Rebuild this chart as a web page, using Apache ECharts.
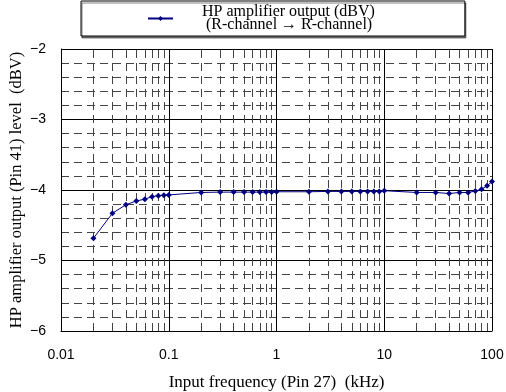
<!DOCTYPE html>
<html>
<head>
<meta charset="utf-8">
<script src="https://cdn.jsdelivr.net/npm/echarts@6/dist/echarts.min.js"></script>
<style>
  html, body { margin: 0; padding: 0; background: #fff; }
  #chart { width: 506px; height: 392px; }
</style>
</head>
<body>
<div id="chart"></div>
<script>
// input frequency (kHz)
const freq = [
  0.02, 0.03, 0.04, 0.05, 0.06, 0.07, 0.08, 0.09, 0.1,
  0.2, 0.3, 0.4, 0.5, 0.6, 0.7, 0.8, 0.9, 1,
  2, 3, 4, 5, 6, 7, 8, 9, 10,
  20, 30, 40, 50, 60, 70, 80, 90, 100
]
// HP amplifier output (dBV)
const level = [
  -4.685, -4.33, -4.21, -4.155, -4.13, -4.095, -4.08, -4.075, -4.07,
  -4.035, -4.03, -4.03, -4.03, -4.03, -4.03, -4.03, -4.03, -4.025,
  -4.025, -4.02, -4.02, -4.02, -4.02, -4.02, -4.02, -4.02, -4.01,
  -4.035, -4.035, -4.05, -4.035, -4.035, -4.015, -3.99, -3.94, -3.88
]
// minor grid lines on the log axis
const minorX = [
  0.02, 0.03, 0.04, 0.05, 0.06, 0.07, 0.08, 0.09,
  0.2, 0.3, 0.4, 0.5, 0.6, 0.7, 0.8, 0.9,
  2, 3, 4, 5, 6, 7, 8, 9,
  20, 30, 40, 50, 60, 70, 80, 90
]
const xTickLabels = { 0.01: '0.01', 0.1: '0.1', 1: '1', 10: '10', 100: '100' }

const seriesName = 'HP amplifier output (dBV)\n (R-channel \u2192 R-channel)'
const serif = '"Liberation Serif", "DejaVu Serif", serif'
const sans = '"Liberation Sans", Arial, sans-serif'
const dashed = { color: '#444', width: 1, type: [8, 5] }

const chart = echarts.init(document.getElementById('chart'))
chart.setOption({
  animation: false,
  backgroundColor: '#fff',
  grid: { left: 61, right: 14, top: 49, bottom: 61, outerBoundsMode: 'none', containLabel: false },
  legend: {
    left: 81,
    top: 1,
    padding: [3, 90, 3, 66],
    borderColor: '#000',
    borderWidth: 1,
    backgroundColor: '#fff',
    shadowColor: 'rgba(0,0,0,0.5)',
    shadowOffsetX: 1,
    shadowOffsetY: 2,
    itemWidth: 25,
    itemHeight: 6,
    textStyle: {
      fontFamily: serif,
      fontSize: 16,
      lineHeight: 13,
      color: '#000',
      padding: [0, 0, 0, 24]
    },
    data: [seriesName]
  },
  xAxis: {
    type: 'log',
    logBase: 10,
    min: 0.01,
    max: 100,
    name: 'Input frequency (Pin 27)  (kHz)',
    nameLocation: 'middle',
    nameGap: 43,
    nameMoveOverlap: false,
    nameTextStyle: { fontFamily: serif, fontSize: 17, color: '#000' },
    axisLine: { lineStyle: { color: '#000', width: 1 } },
    axisTick: { show: false },
    axisLabel: {
      margin: 17,
      fontFamily: sans,
      fontSize: 14,
      color: '#000',
      formatter: v => xTickLabels[v] || String(+v.toPrecision(3))
    },
    splitLine: { show: true, lineStyle: { color: '#000', width: 1 } }
  },
  yAxis: {
    type: 'value',
    min: -6,
    max: -2,
    interval: 1,
    name: 'HP amplifier output (Pin 41) level  (dBV)',
    nameLocation: 'middle',
    nameGap: 36,
    nameMoveOverlap: false,
    nameTextStyle: { fontFamily: serif, fontSize: 16.5, color: '#000' },
    axisLine: { show: true, lineStyle: { color: '#000', width: 1 } },
    axisTick: { show: false },
    axisLabel: {
      margin: 15,
      fontFamily: sans,
      fontSize: 14,
      color: '#000',
      formatter: v => (v < 0 ? '\u2212' + Math.abs(v) : String(v))
    },
    splitLine: { show: true, lineStyle: { color: '#000', width: 1 } },
    minorTick: { show: false, splitNumber: 5 },
    minorSplitLine: { show: true, lineStyle: dashed }
  },
  series: [{
    name: seriesName,
    type: 'line',
    data: freq.map((f, i) => [f, level[i]]),
    color: '#000080',
    symbol: 'diamond',
    symbolSize: 6,
    lineStyle: { width: 1, color: '#000080' },
    z: 5,
    markLine: {
      silent: true,
      symbol: ['none', 'none'],
      label: { show: false },
      lineStyle: dashed,
      z: 1,
      data: minorX.map(x => ({ xAxis: x }))
    }
  }]
})
</script>
</body>
</html>
